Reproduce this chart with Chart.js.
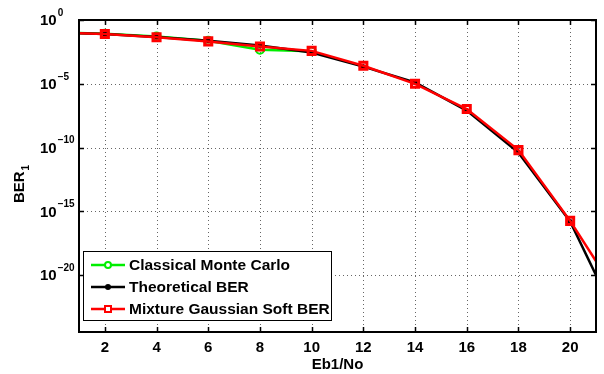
<!DOCTYPE html>
<html>
<head>
<meta charset="utf-8">
<script src="https://cdn.jsdelivr.net/npm/chart.js@4.4.1/dist/chart.umd.min.js"></script>
<style>
  html, body { margin: 0; padding: 0; background: #fff; }
  canvas { display: block; }
</style>
</head>
<body>
<canvas id="ber" width="604" height="374"></canvas>
<script>
// Eb1/No points (the first and last fall outside the x limits and get clipped)
const ebno = [0, 2, 4, 6, 8, 10, 12, 14, 16, 18, 20, 22];

const monteCarlo  = [1.05e-1, 8.4e-2, 5.0e-2, 2.4e-2, 4.6e-3, 3.5e-3];
const theoretical = [1.05e-1, 7.9e-2, 4.7e-2, 2.4e-2, 1.0e-2, 2.8e-3, 2.2e-4, 1.26e-5, 7.9e-8, 4.0e-11, 1.6e-16, 6.3e-25];
const mixtureSoft = [1.02e-1, 8.1e-2, 4.5e-2, 2.1e-2, 8.3e-3, 3.8e-3, 2.6e-4, 1.0e-5, 1.05e-7, 6.3e-11, 1.8e-16, 8.9e-23];

const seriesNames = ['Classical Monte Carlo', 'Theoretical BER', 'Mixture Gaussian Soft BER'];
const xTicks = [2, 4, 6, 8, 10, 12, 14, 16, 18, 20];
const yTicks = [1e-20, 1e-15, 1e-10, 1e-5, 1e0];

const FONT = '"Liberation Sans", Arial, Helvetica, sans-serif';

const toPoints = (vals) => vals.map((v, i) => ({ x: ebno[i], y: v }));

// matlab-ish axes: dotted grid, box, inward ticks, 10^n labels, legend
const matlabAxes = {
  id: 'matlabAxes',
  beforeDatasetsDraw(chart) {
    const { ctx, chartArea: a, scales: { x, y } } = chart;
    ctx.save();
    ctx.strokeStyle = 'rgba(0,0,0,0.6)';
    ctx.lineWidth = 1;
    ctx.setLineDash([1, 3]);
    xTicks.forEach(t => {
      const px = Math.round(x.getPixelForValue(t)) + 0.5;
      ctx.beginPath(); ctx.moveTo(px, a.top); ctx.lineTo(px, a.bottom); ctx.stroke();
    });
    yTicks.forEach(t => {
      const py = Math.round(y.getPixelForValue(t)) + 0.5;
      ctx.beginPath(); ctx.moveTo(a.left, py); ctx.lineTo(a.right, py); ctx.stroke();
    });
    ctx.restore();
  },
  afterDatasetsDraw(chart) {
    const { ctx, chartArea: a, scales: { x, y } } = chart;
    ctx.save();
    ctx.setLineDash([]);
    ctx.strokeStyle = '#000';
    ctx.lineWidth = 2;
    ctx.strokeRect(a.left, a.top, a.right - a.left, a.bottom - a.top);

    // inward ticks
    ctx.lineWidth = 1.5;
    const tl = 5;
    xTicks.forEach(t => {
      const px = Math.round(x.getPixelForValue(t)) + 0.5;
      ctx.beginPath();
      ctx.moveTo(px, a.bottom); ctx.lineTo(px, a.bottom - tl);
      ctx.moveTo(px, a.top); ctx.lineTo(px, a.top + tl);
      ctx.stroke();
    });
    yTicks.forEach(t => {
      const py = Math.round(y.getPixelForValue(t)) + 0.5;
      ctx.beginPath();
      ctx.moveTo(a.left, py); ctx.lineTo(a.left + tl, py);
      ctx.moveTo(a.right, py); ctx.lineTo(a.right - tl, py);
      ctx.stroke();
    });

    ctx.fillStyle = '#000';
    // x tick labels
    ctx.font = 'bold 15px ' + FONT;
    ctx.textAlign = 'center';
    ctx.textBaseline = 'middle';
    xTicks.forEach(t => ctx.fillText(String(t), x.getPixelForValue(t), 348));

    // y tick labels 10^n
    yTicks.forEach(t => {
      const py = y.getPixelForValue(t);
      const e = Math.round(Math.log10(t));
      ctx.textAlign = 'left';
      ctx.font = 'bold 15px ' + FONT;
      ctx.fillText('10', 40, py + 1);
      const w = ctx.measureText('10').width;
      ctx.font = 'bold 10px ' + FONT;
      ctx.fillText(e === 0 ? '0' : '\u2212' + Math.abs(e), 40 + w + 1, py - 7);
    });

    // axis titles
    ctx.font = 'bold 15px ' + FONT;
    ctx.textAlign = 'center';
    ctx.fillText('Eb1/No', (a.left + a.right) / 2, 365);

    ctx.save();
    ctx.translate(20, 184);
    ctx.rotate(-Math.PI / 2);
    ctx.font = 'bold 15px ' + FONT;
    const bw = ctx.measureText('BER').width;
    ctx.font = 'bold 10px ' + FONT;
    const sw = ctx.measureText('1').width;
    const x0 = -(bw + sw + 1) / 2;
    ctx.textAlign = 'left';
    ctx.font = 'bold 15px ' + FONT;
    ctx.fillText('BER', x0, 0);
    ctx.font = 'bold 10px ' + FONT;
    ctx.fillText('1', x0 + bw + 1, 6);
    ctx.restore();

    // legend box
    const lx = 83.5, ly = 251.5, lw = 248, lh = 69;
    ctx.fillStyle = '#fff';
    ctx.fillRect(lx, ly, lw, lh);
    ctx.strokeStyle = '#000';
    ctx.lineWidth = 1;
    ctx.strokeRect(lx, ly, lw, lh);
    const rows = [265, 287, 309];
    const dsets = chart.data.datasets;
    rows.forEach((ry, i) => {
      const ds = dsets.find(d => d.label === seriesNames[i]);
      ctx.strokeStyle = ds.borderColor;
      ctx.lineWidth = 2.5;
      ctx.beginPath(); ctx.moveTo(91, ry); ctx.lineTo(125, ry); ctx.stroke();
      ctx.lineWidth = 2;
      if (ds.pointStyle === 'circle' && ds.pointBackgroundColor === ds.borderColor) {
        ctx.fillStyle = ds.borderColor;
        ctx.beginPath(); ctx.arc(108, ry, 3, 0, Math.PI * 2); ctx.fill();
      } else if (ds.pointStyle === 'circle') {
        ctx.fillStyle = '#fff';
        ctx.beginPath(); ctx.arc(108, ry, 3, 0, Math.PI * 2); ctx.fill(); ctx.stroke();
      } else {
        ctx.fillStyle = '#fff';
        ctx.fillRect(105, ry - 3, 6, 6);
        ctx.strokeRect(105, ry - 3, 6, 6);
      }
      ctx.fillStyle = '#000';
      ctx.font = 'bold 15.5px ' + FONT;
      ctx.textAlign = 'left';
      ctx.textBaseline = 'middle';
      ctx.fillText(seriesNames[i], 129, ry + 1);
    });
    ctx.restore();
  }
};

new Chart(document.getElementById('ber'), {
  type: 'line',
  data: {
    datasets: [
      {
        label: seriesNames[0],
        data: toPoints(monteCarlo),
        borderColor: '#00ee00',
        borderWidth: 2.5,
        pointStyle: 'circle',
        pointRadius: 4,
        pointBorderWidth: 2,
        pointBackgroundColor: 'rgba(0,0,0,0)',
        order: 3
      },
      {
        label: seriesNames[1],
        data: toPoints(theoretical),
        borderColor: '#000000',
        borderWidth: 2.5,
        pointStyle: 'circle',
        pointRadius: 2.5,
        pointBorderWidth: 0,
        pointBackgroundColor: '#000000',
        order: 2
      },
      {
        label: seriesNames[2],
        data: toPoints(mixtureSoft),
        borderColor: '#ff0000',
        borderWidth: 2.5,
        pointStyle: 'rect',
        pointRadius: 5,
        pointBorderWidth: 3,
        pointBackgroundColor: 'rgba(0,0,0,0)',
        order: 1
      }
    ]
  },
  options: {
    responsive: false,
    animation: false,
    devicePixelRatio: 1,
    layout: { padding: { top: 20, right: 1, left: 0, bottom: 0 } },
    elements: { line: { tension: 0 } },
    plugins: { legend: { display: false }, tooltip: { enabled: false } },
    scales: {
      x: {
        type: 'linear',
        min: 1,
        max: 21,
        grid: { display: false },
        border: { display: false },
        ticks: { display: false },
        afterBuildTicks: (s) => { s.ticks = xTicks.map(v => ({ value: v })); },
        afterFit: (s) => { s.height = 42; }
      },
      y: {
        type: 'logarithmic',
        min: 3.5e-25,
        max: 1,
        grid: { display: false },
        border: { display: false },
        ticks: { display: false },
        afterBuildTicks: (s) => { s.ticks = yTicks.map(v => ({ value: v })); },
        afterFit: (s) => { s.height; s.width = 79; }
      }
    }
  },
  plugins: [matlabAxes]
});
</script>
</body>
</html>
